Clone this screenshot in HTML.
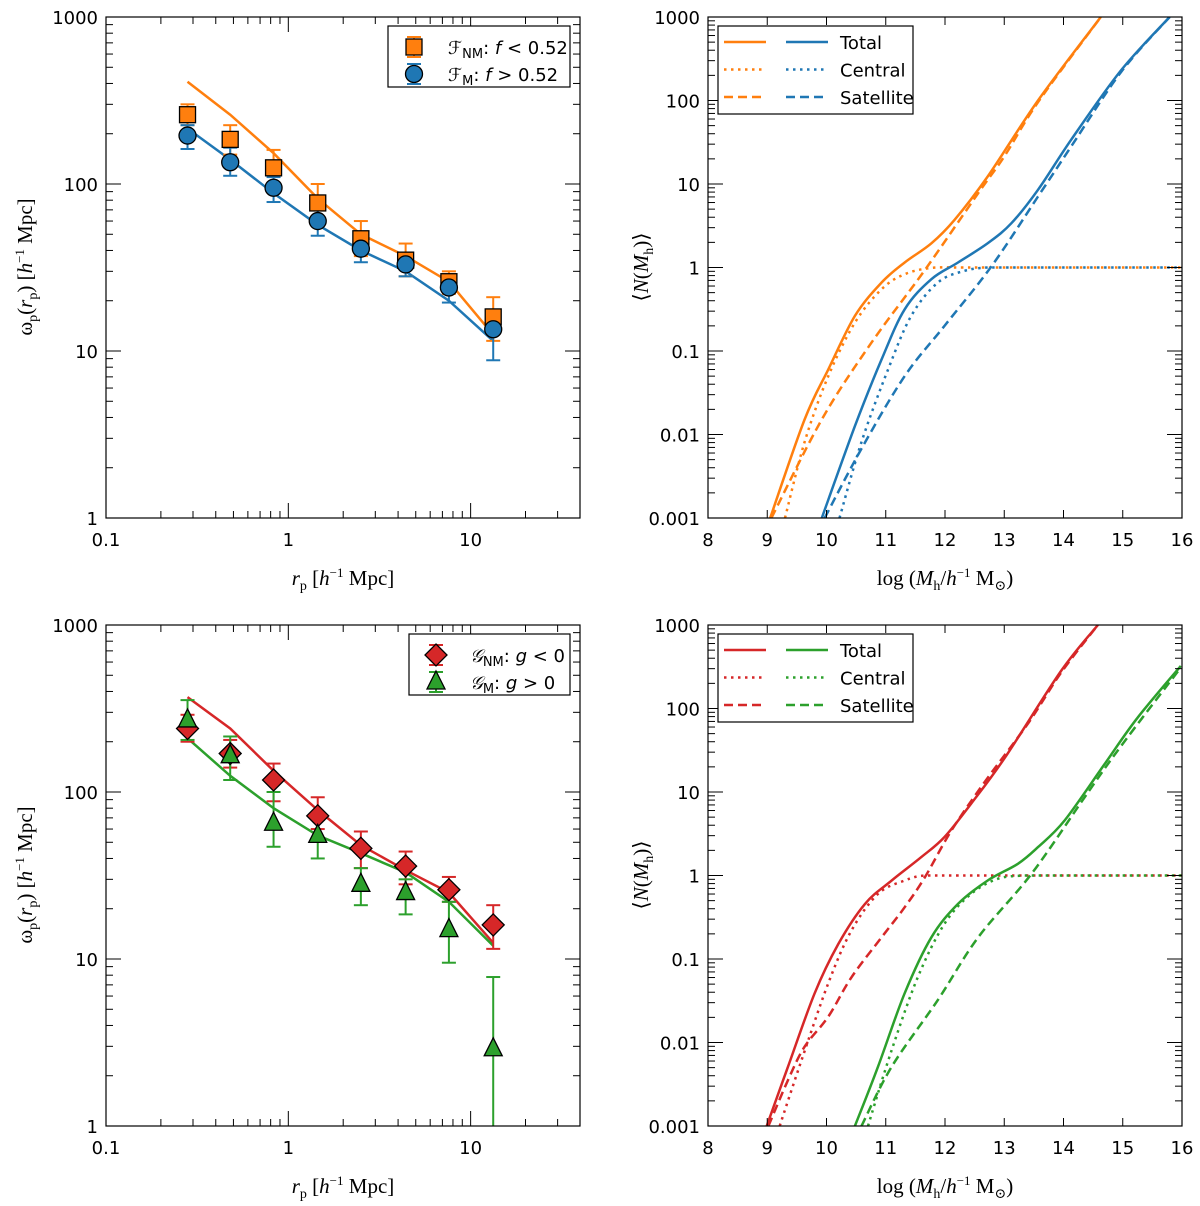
<!DOCTYPE html>
<html><head><meta charset="utf-8"><style>
body{margin:0;background:#fff}
svg{display:block}
text{font-family:"DejaVu Sans","Liberation Sans",sans-serif;font-size:18px;fill:#000}
.serif{font-family:"Liberation Serif","DejaVu Serif",serif;font-size:21px}
</style></head><body>
<svg id="fig" width="1200" height="1206" viewBox="0 0 1200 1206" xmlns="http://www.w3.org/2000/svg"></svg>
<script>
// ---- data: correlation panels ----
const rp = [0.28,0.48,0.83,1.45,2.5,4.4,7.6,13.3];
const fnmVal = [260,185,125,77,47,35,26,16];
const fnmHi = [300,225,160,100,60,44,30,21];
const fnmLo = [225,150,95,62,37,28,22,11.5];
const fnmModel = [410,260,153,82,50,37,26,12.5];
const fmVal = [195,135,95,60,41,33,24,13.5];
const fmHi = [225,165,110,70,50,38,28,15.5];
const fmLo = [162,112,78,49,34,28,19.5,8.8];
const fmModel = [215,140,88,57,40,30,20,11.5];
const gnmVal = [240,170,118,72,46,36,26,16];
const gnmHi = [290,205,148,93,58,44,31,21];
const gnmLo = [200,140,88,60,35,28,22,11.5];
const gnmModel = [370,240,134,78,48,34,25,12.5];
const gmVal = [270,165,65,55,28,25,15,2.9];
const gmHi = [355,215,100,68,35,30,22,7.8];
const gmLo = [205,118,47,40,21,18.5,9.5,0.5];
const gmModel = [210,125,80,55,43,33,22,12];
// ---- data: HOD panels (logM, log10 N) ----
const oTotX=[9.05,9.63,10.03,10.48,10.93,11.32,11.77,12.16,12.72,13.57,14.63];
const oTotY=[-3,-1.82,-1.22,-0.58,-0.18,0.06,0.29,0.57,1.09,2.0,3.0];
const oCenX=[9.30,9.63,10.03,10.48,10.93,11.32,11.77,12.3,13,16];
const oCenY=[-3,-2.09,-1.30,-0.66,-0.26,-0.08,-0.005,0,0,0];
const oSatX=[9.07,9.92,10.76,11.66,12.56,13.0,13.57,14.63];
const oSatY=[-3,-1.82,-0.90,-0.03,0.89,1.33,1.98,3.0];
const bTotX=[9.92,10.48,10.93,11.32,11.77,12.22,12.72,13.12,13.57,14.13,14.97,15.79];
const bTotY=[-3,-1.90,-1.10,-0.50,-0.14,0.06,0.29,0.53,0.93,1.53,2.36,3.0];
const bCenX=[10.22,10.59,11.04,11.43,11.88,12.33,12.72,13.2,14,16];
const bCenY=[-3,-2.09,-1.22,-0.58,-0.18,-0.04,0,0,0,0];
const bSatX=[9.97,10.59,11.32,11.99,12.78,13.57,14.13,14.97,15.79];
const bSatY=[-3,-2.17,-1.30,-0.70,0.01,0.85,1.45,2.34,3.0];
const rTotX=[8.99,9.35,9.80,10.20,10.65,11.10,11.60,11.99,12.44,13.01,13.96,14.58];
const rTotY=[-3,-2.29,-1.41,-0.82,-0.34,-0.06,0.22,0.46,0.86,1.41,2.45,3.0];
const rCenX=[9.21,9.58,10.03,10.42,10.87,11.32,11.66,12.2,13,16];
const rCenY=[-3,-2.21,-1.29,-0.66,-0.22,-0.06,0,0,0,0];
const rSatX=[9.02,9.35,9.63,10.03,10.42,10.93,11.32,11.66,12.11,12.67,13.4,13.96,14.58];
const rSatY=[-3,-2.45,-2.05,-1.69,-1.22,-0.74,-0.38,-0.02,0.54,1.12,1.82,2.43,3.0];
const gTotX=[10.48,10.87,11.32,11.77,12.22,12.72,13.23,13.57,14.02,14.69,15.25,15.98];
const gTotY=[-3,-2.29,-1.41,-0.74,-0.34,-0.06,0.14,0.34,0.66,1.33,1.89,2.51];
const gCenX=[10.70,11.10,11.54,11.99,12.44,12.89,13.34,13.8,14.5,16];
const gCenY=[-3,-2.09,-1.22,-0.58,-0.22,-0.04,0,0,0,0];
const gSatX=[10.59,11.10,11.88,12.56,13.46,14.36,14.97,15.98];
const gSatY=[-3,-2.29,-1.49,-0.74,0.02,0.94,1.55,2.49];

const NS="http://www.w3.org/2000/svg";
const fig=document.getElementById('fig');
function mk(tag,attrs,parent,txt){const e=document.createElementNS(NS,tag);for(const k in attrs)e.setAttribute(k,attrs[k]);if(txt!==undefined)e.textContent=txt;(parent||fig).appendChild(e);return e;}
const C={o:'#ff7f0e',b:'#1f77b4',r:'#d62728',g:'#2ca02c'};

function panel(name,L,T,W,H,xlog,xmin,xmax,ymin,ymax){
  const g=mk('g',{});
  
  
  const p={g,L,T,W,H,
    x:v=>L+(xlog?(Math.log10(v)-Math.log10(xmin))/(Math.log10(xmax)-Math.log10(xmin)):(v-xmin)/(xmax-xmin))*W,
    y:v=>T+H-(Math.log10(v)-Math.log10(ymin))/(Math.log10(ymax)-Math.log10(ymin))*H,
    yl:lv=>T+H-(lv-Math.log10(ymin))/(Math.log10(ymax)-Math.log10(ymin))*H};
  const cp=mk('clipPath',{id:'c'+name},g);mk('rect',{x:L,y:T,width:W,height:H},cp);
  p.clip='url(#c'+name+')';
  return p;
}
function frame(p,xlog,xmin,xmax,ymin,ymax,xticks,yticks){
  const {g,L,T,W,H}=p;
  mk('rect',{x:L,y:T,width:W,height:H,fill:'none',stroke:'#000','stroke-width':1.2},g);
  const tk=(x1,y1,x2,y2)=>mk('line',{x1,y1,x2,y2,stroke:'#000','stroke-width':1},g);
  for(let e=Math.log10(ymin);e<=Math.log10(ymax);e++){
    for(let m=1;m<10;m++){const v=m*Math.pow(10,e);if(v>ymax*1.0001)break;const yy=p.y(v);const len=m==1?15:7;
      tk(L,yy,L+len,yy);tk(L+W,yy,L+W-len,yy);}
  }
  yticks.forEach(t=>{const tt=mk('text',{x:L-8,y:p.y(t.v)+7,'text-anchor':'end'},g,t.s);});
  if(xlog){
    for(let e=Math.log10(xmin);e<2;e++){for(let m=1;m<10;m++){const v=m*Math.pow(10,e);if(v>xmax)break;const xx=p.x(v);const len=m==1?15:7;tk(xx,T+H,xx,T+H-len);tk(xx,T,xx,T+len);}}
  }else{
    for(let v=xmin;v<=xmax;v++){const xx=p.x(v);tk(xx,T+H,xx,T+H-8);tk(xx,T,xx,T+8);}
  }
  xticks.forEach(t=>{const tt=mk('text',{x:p.x(t.v),y:T+H+28,'text-anchor':'middle'},g,t.s);});
}
function line(p,xs,ys,color,dash,isLog){
  const pts=xs.map((x,i)=>p.x(x).toFixed(1)+','+(isLog?p.yl(ys[i]):p.y(ys[i])).toFixed(1)).join(' ');
  const a={points:pts,fill:'none',stroke:color,'stroke-width':2.5,'clip-path':p.clip};
  if(dash)a['stroke-dasharray']=dash;
  return mk('polyline',a,p.g);
}
function smooth(p,xs,ys,color,dash){
  const P=xs.map((x,i)=>[p.x(x),p.yl(ys[i])]);
  let d='M'+P[0][0].toFixed(1)+','+P[0][1].toFixed(1);
  for(let i=0;i<P.length-1;i++){
    const p0=P[Math.max(0,i-1)],p1=P[i],p2=P[i+1],p3=P[Math.min(P.length-1,i+2)];
    let c1=[p1[0]+(p2[0]-p0[0])/6,p1[1]+(p2[1]-p0[1])/6];
    let c2=[p2[0]-(p3[0]-p1[0])/6,p2[1]-(p3[1]-p1[1])/6];
    if(p1[1]===p2[1]){c1[1]=p1[1];c2[1]=p2[1];}
    d+=` C${c1[0].toFixed(1)},${c1[1].toFixed(1)} ${c2[0].toFixed(1)},${c2[1].toFixed(1)} ${p2[0].toFixed(1)},${p2[1].toFixed(1)}`;
  }
  const a={d,fill:'none',stroke:color,'stroke-width':2.5,'clip-path':p.clip};
  if(dash)a['stroke-dasharray']=dash;
  return mk('path',a,p.g);
}
function marker(parent,shape,cx,cy,color){
  let e;
  if(shape=='sq')e=mk('rect',{x:cx-8,y:cy-8,width:16,height:16},parent);
  else if(shape=='ci')e=mk('circle',{cx,cy,r:8.5},parent);
  else if(shape=='di')e=mk('polygon',{points:`${cx},${cy-11} ${cx+11},${cy} ${cx},${cy+11} ${cx-11},${cy}`},parent);
  else e=mk('polygon',{points:`${cx},${cy-11} ${cx+9},${cy+7} ${cx-9},${cy+7}`},parent);
  e.setAttribute('fill',color);e.setAttribute('stroke','#000');e.setAttribute('stroke-width',1.3);
  return e;
}
function errs(p,xs,hi,lo,color){
  xs.forEach((x,i)=>{const xx=p.x(x),y1=p.y(hi[i]),y2=Math.min(p.y(lo[i]),p.T+p.H+5);
    const g=mk('g',{'clip-path':p.clip,stroke:color,'stroke-width':2},p.g);
    
    mk('line',{x1:xx,y1,x2:xx,y2},g);mk('line',{x1:xx-7,y1,x2:xx+7,y2:y1},g);mk('line',{x1:xx-7,y1:y2,x2:xx+7,y2},g);});
}
function points(p,xs,vals,shape,color,name){
  xs.forEach((x,i)=>{const m=marker(p.g,shape,p.x(x),p.y(vals[i]),color);});
}
function ylab(x,y,content){const t=mk('text',{transform:`translate(${x},${y}) rotate(-90)`,'text-anchor':'middle',class:'serif'});t.innerHTML=content;return t;}
function xlab(x,y,content){const t=mk('text',{x,y,'text-anchor':'middle',class:'serif'});t.innerHTML=content;return t;}

const wxt=[{v:0.1,s:'0.1'},{v:1,s:'1'},{v:10,s:'10'}];
const wyt=[{v:1,s:'1'},{v:10,s:'10'},{v:100,s:'100'},{v:1000,s:'1000'}];
const hxt=[8,9,10,11,12,13,14,15,16].map(v=>({v,s:String(v)}));
const hyt=[{v:0.001,s:'0.001'},{v:0.01,s:'0.01'},{v:0.1,s:'0.1'},{v:1,s:'1'},{v:10,s:'10'},{v:100,s:'100'},{v:1000,s:'1000'}];

function wpanel(name,T,A,B){
  const p=panel(name,106,T,474,501,true,0.1,39.8,1,1000);
  line(p,rp,A.model,A.c);line(p,rp,B.model,B.c);
  errs(p,rp,A.hi,A.lo,A.c);errs(p,rp,B.hi,B.lo,B.c);
  points(p,rp,A.val,A.sh,A.c,A.nm);points(p,rp,B.val,B.sh,B.c,B.nm);
  frame(p,true,0.1,39.8,1,1000,wxt,wyt);
  const lg=mk('g',{},p.g);
  const lx=A.lx;mk('rect',{x:lx,y:T+9,width:570-lx,height:61,fill:'#fff',stroke:'#000','stroke-width':1.2},lg);
  [[A,T+30],[B,T+57]].forEach(([S,yy])=>{
    const mx=lx+(A.lx<400?26:27);
    mk('line',{x1:mx,y1:yy-10,x2:mx,y2:yy+10,stroke:S.c,'stroke-width':2},lg);
    mk('line',{x1:mx-7,y1:yy-10,x2:mx+7,y2:yy-10,stroke:S.c,'stroke-width':2},lg);
    mk('line',{x1:mx-7,y1:yy+10,x2:mx+7,y2:yy+10,stroke:S.c,'stroke-width':2},lg);
    marker(lg,S.sh,mx,yy,S.c);
    const t=mk('text',{x:mx+34,y:yy+7},lg);t.innerHTML=S.label;
  });
  ylab(32,T+250,'ω<tspan font-size="14" dy="5">p</tspan><tspan dy="-5">(</tspan><tspan font-style="italic">r</tspan><tspan font-size="14" dy="5">p</tspan><tspan dy="-5">)  [</tspan><tspan font-style="italic">h</tspan><tspan font-size="13" dy="-8">−1</tspan><tspan dy="8"> Mpc]</tspan>');
  xlab(343,T+568,'<tspan font-style="italic">r</tspan><tspan font-size="14" dy="5">p</tspan><tspan dy="-5">  [</tspan><tspan font-style="italic">h</tspan><tspan font-size="13" dy="-8">−1</tspan><tspan dy="8"> Mpc]</tspan>');
}
wpanel('panel-wp-f',17,
 {val:fnmVal,hi:fnmHi,lo:fnmLo,model:fnmModel,c:C.o,sh:'sq',nm:'fnm-point',lx:388,label:'<tspan font-style="italic">ℱ</tspan><tspan font-size="13" dy="4">NM</tspan><tspan dy="-4">: </tspan><tspan font-style="italic">f</tspan> &lt; 0.52'},
 {val:fmVal,hi:fmHi,lo:fmLo,model:fmModel,c:C.b,sh:'ci',nm:'fm-point',label:'<tspan font-style="italic">ℱ</tspan><tspan font-size="13" dy="4">M</tspan><tspan dy="-4">: </tspan><tspan font-style="italic">f</tspan> &gt; 0.52'});
wpanel('panel-wp-g',625,
 {val:gnmVal,hi:gnmHi,lo:gnmLo,model:gnmModel,c:C.r,sh:'di',nm:'gnm-point',lx:409,label:'<tspan font-style="italic">𝒢</tspan><tspan font-size="13" dy="4">NM</tspan><tspan dy="-4">: </tspan><tspan font-style="italic">g</tspan> &lt; 0'},
 {val:gmVal,hi:gmHi,lo:gmLo,model:gmModel,c:C.g,sh:'tr',nm:'gm-point',label:'<tspan font-style="italic">𝒢</tspan><tspan font-size="13" dy="4">M</tspan><tspan dy="-4">: </tspan><tspan font-style="italic">g</tspan> &gt; 0'});

function hpanel(name,T,c1,c2,S1,S2){
  const p=panel(name,708,T,474,501,false,8,16,0.001,1000);
  [S1,S2].forEach((S,k)=>{const c=k?c2:c1;
    smooth(p,S.cx,S.cy,c,'2.5 4.5');
    smooth(p,S.sx,S.sy,c,'9 5');
    smooth(p,S.tx,S.ty,c,null);});
  frame(p,false,8,16,0.001,1000,hxt,hyt);
  const lg=mk('g',{},p.g);
  mk('rect',{x:718,y:T+9,width:195,height:88,fill:'#fff',stroke:'#000','stroke-width':1.2},lg);
  [['Total',null],['Central','2.5 4.5'],['Satellite','9 5']].forEach((r,i)=>{
    const yy=T+25+i*27.5;
    [[724,c1],[786,c2]].forEach(([x0,c])=>{const a={x1:x0,y1:yy,x2:x0+42,y2:yy,stroke:c,'stroke-width':2.5};if(r[1])a['stroke-dasharray']=r[1];mk('line',a,lg);});
    mk('text',{x:840,y:yy+7},lg,r[0]);
  });
  ylab(648,T+250,'⟨<tspan font-style="italic">N</tspan>(<tspan font-style="italic">M</tspan><tspan font-size="14" dy="5">h</tspan><tspan dy="-5">)⟩</tspan>');
  xlab(945,T+568,'log (<tspan font-style="italic">M</tspan><tspan font-size="14" dy="5">h</tspan><tspan dy="-5">/</tspan><tspan font-style="italic">h</tspan><tspan font-size="13" dy="-8">−1</tspan><tspan dy="8"> M</tspan><tspan font-size="14" dy="5">⊙</tspan><tspan dy="-5">)</tspan>');
}
hpanel('panel-hod-f',17,C.o,C.b,
 {tx:oTotX,ty:oTotY,cx:oCenX,cy:oCenY,sx:oSatX,sy:oSatY},
 {tx:bTotX,ty:bTotY,cx:bCenX,cy:bCenY,sx:bSatX,sy:bSatY});
hpanel('panel-hod-g',625,C.r,C.g,
 {tx:rTotX,ty:rTotY,cx:rCenX,cy:rCenY,sx:rSatX,sy:rSatY},
 {tx:gTotX,ty:gTotY,cx:gCenX,cy:gCenY,sx:gSatX,sy:gSatY});
</script>
</body></html>
